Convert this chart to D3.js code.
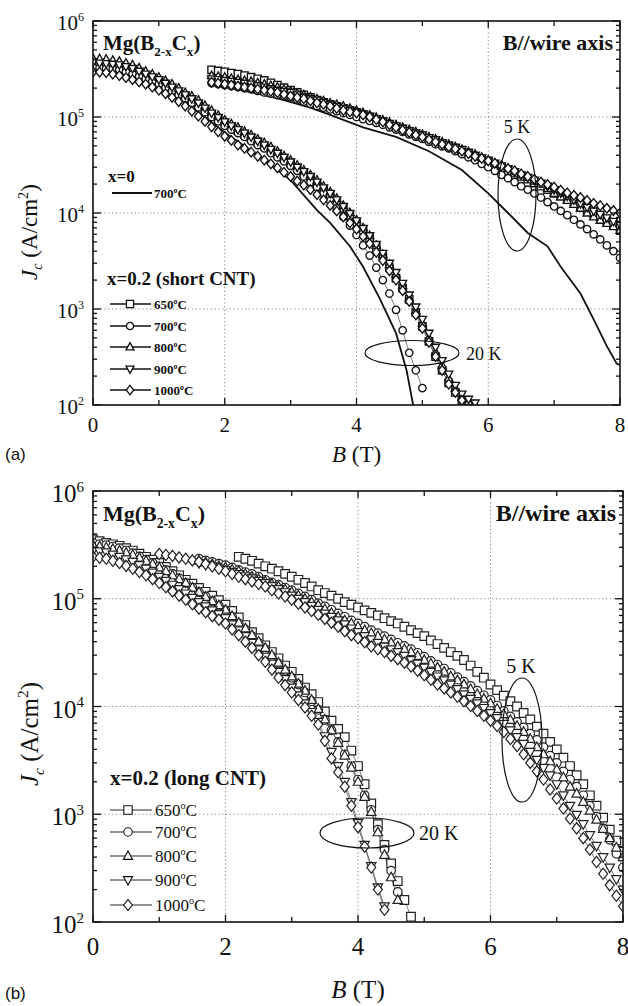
<!DOCTYPE html>
<html>
<head>
<meta charset="utf-8">
<script src="https://cdn.jsdelivr.net/npm/d3@7"></script>
<style>
  body { margin: 0; background: #fff; }
</style>
</head>
<body>
<svg id="chart" width="628" height="1006" viewBox="0 0 628 1006"></svg>
<script>
/* ── data ────────────────────────────────────────────────────────────────── */

// field sweep points (T), shared by every measured curve
const fieldGrid = [0, 0.1, 0.2, 0.3, 0.4, 0.5, 0.6, 0.7, 0.8, 0.9, 1.0, 1.1, 1.2, 1.3, 1.4, 1.5, 1.6,
  1.7, 1.8, 1.9, 2.0, 2.1, 2.2, 2.3, 2.4, 2.5, 2.6, 2.7, 2.8, 2.9, 3.0, 3.1, 3.2, 3.3, 3.4, 3.5, 3.6,
  3.7, 3.8, 3.9, 4.0, 4.1, 4.2, 4.3, 4.4, 4.5, 4.6, 4.7, 4.8, 4.9, 5.0, 5.1, 5.2, 5.3, 5.4, 5.5, 5.6,
  5.7, 5.8, 5.9, 6.0, 6.1, 6.2, 6.3, 6.4, 6.5, 6.6, 6.7, 6.8, 6.9, 7.0, 7.1, 7.2, 7.3, 7.4, 7.5, 7.6,
  7.7, 7.8, 7.9, 8.0];

const temps = ["650", "700", "800", "900", "1000"];
const symbols = ["square", "circle", "triangle", "nabla", "diamond"];

/* (a) short CNT — Jc (A/cm²) */

// 5 K, sweep from 1.8 T
const a5KStart = 1.8;
const a5K_650 = [3.1e5, 3.02e5, 2.95e5, 2.87e5, 2.8e5, 2.7e5, 2.6e5, 2.5e5, 2.4e5, 2.27e5,
  2.15e5, 2.02e5, 1.9e5, 1.8e5, 1.7e5, 1.6e5, 1.5e5, 1.42e5, 1.35e5, 1.29e5,
  1.23e5, 1.17e5, 1.12e5, 1.06e5, 1.0e5, 9.4e4, 8.9e4, 8.4e4, 7.9e4, 7.5e4,
  7.1e4, 6.7e4, 6.3e4, 5.9e4, 5.6e4, 5.3e4, 5.0e4, 4.7e4, 4.4e4, 4.1e4,
  3.9e4, 3.65e4, 3.4e4, 3.15e4, 2.95e4, 2.75e4, 2.6e4, 2.4e4, 2.25e4, 2.05e4,
  1.9e4, 1.75e4, 1.6e4, 1.5e4, 1.4e4, 1.28e4, 1.17e4, 1.07e4, 9.8e3, 9.0e3,
  8.3e3, 7.7e3, 7.1e3];
const a5K_700 = [2.25e5, 2.2e5, 2.15e5, 2.1e5, 2.05e5, 2.0e5, 1.95e5, 1.87e5, 1.8e5, 1.75e5,
  1.7e5, 1.65e5, 1.6e5, 1.52e5, 1.45e5, 1.37e5, 1.3e5, 1.25e5, 1.2e5, 1.15e5,
  1.1e5, 1.05e5, 1.0e5, 9.5e4, 9.1e4, 8.7e4, 8.3e4, 7.8e4, 7.4e4, 7.0e4,
  6.6e4, 6.2e4, 5.9e4, 5.5e4, 5.2e4, 4.95e4, 4.7e4, 4.4e4, 4.1e4, 3.8e4,
  3.55e4, 3.25e4, 3.0e4, 2.75e4, 2.5e4, 2.3e4, 2.1e4, 1.9e4, 1.75e4, 1.6e4,
  1.45e4, 1.3e4, 1.17e4, 1.05e4, 9.5e3, 8.5e3, 7.6e3, 6.8e3, 6.0e3, 5.3e3,
  4.6e3, 4.0e3, 3.4e3];
const a5K_800 = [2.7e5, 2.65e5, 2.6e5, 2.52e5, 2.45e5, 2.4e5, 2.35e5, 2.27e5, 2.2e5, 2.12e5,
  2.05e5, 1.95e5, 1.85e5, 1.77e5, 1.7e5, 1.62e5, 1.55e5, 1.47e5, 1.4e5, 1.35e5,
  1.3e5, 1.23e5, 1.17e5, 1.11e5, 1.05e5, 9.9e4, 9.3e4, 8.8e4, 8.3e4, 7.8e4,
  7.4e4, 7.0e4, 6.6e4, 6.2e4, 5.9e4, 5.5e4, 5.2e4, 4.9e4, 4.6e4, 4.35e4,
  4.1e4, 3.8e4, 3.55e4, 3.3e4, 3.1e4, 2.9e4, 2.7e4, 2.5e4, 2.35e4, 2.15e4,
  2.0e4, 1.8e4, 1.6e4, 1.47e4, 1.35e4, 1.23e4, 1.12e4, 1.0e4, 9.1e3, 8.4e3,
  7.8e3, 7.2e3, 6.6e3];
const a5K_900 = [2.5e5, 2.45e5, 2.4e5, 2.35e5, 2.3e5, 2.25e5, 2.2e5, 2.12e5, 2.05e5, 1.97e5,
  1.9e5, 1.85e5, 1.8e5, 1.7e5, 1.6e5, 1.55e5, 1.5e5, 1.42e5, 1.35e5, 1.29e5,
  1.23e5, 1.17e5, 1.12e5, 1.07e5, 1.02e5, 9.6e4, 9.1e4, 8.6e4, 8.1e4, 7.6e4,
  7.2e4, 6.8e4, 6.5e4, 6.1e4, 5.8e4, 5.4e4, 5.1e4, 4.85e4, 4.6e4, 4.3e4,
  4.0e4, 3.75e4, 3.55e4, 3.3e4, 3.1e4, 2.9e4, 2.7e4, 2.5e4, 2.35e4, 2.2e4,
  2.05e4, 1.9e4, 1.75e4, 1.62e4, 1.5e4, 1.37e4, 1.25e4, 1.15e4, 1.05e4, 9.7e3,
  8.9e3, 8.2e3, 7.6e3];
const a5K_1000 = [2.3e5, 2.25e5, 2.2e5, 2.15e5, 2.1e5, 2.05e5, 2.0e5, 1.95e5, 1.9e5, 1.85e5,
  1.8e5, 1.72e5, 1.65e5, 1.6e5, 1.55e5, 1.47e5, 1.4e5, 1.35e5, 1.3e5, 1.23e5,
  1.17e5, 1.13e5, 1.1e5, 1.05e5, 1.0e5, 9.4e4, 8.9e4, 8.3e4, 7.8e4, 7.3e4,
  6.9e4, 6.5e4, 6.2e4, 5.8e4, 5.5e4, 5.2e4, 4.9e4, 4.65e4, 4.4e4, 4.15e4,
  3.9e4, 3.7e4, 3.5e4, 3.3e4, 3.1e4, 2.9e4, 2.75e4, 2.55e4, 2.4e4, 2.25e4,
  2.1e4, 1.98e4, 1.86e4, 1.73e4, 1.62e4, 1.53e4, 1.45e4, 1.35e4, 1.26e4, 1.19e4,
  1.12e4, 1.06e4, 1.0e4];

// 20 K, sweep from 0 T
const a20KStart = 0;
const a20K_650 = [3.5e5, 3.48e5, 3.45e5, 3.38e5, 3.3e5, 3.15e5, 3.0e5, 2.85e5, 2.7e5, 2.52e5,
  2.35e5, 2.17e5, 2.0e5, 1.82e5, 1.66e5, 1.5e5, 1.35e5, 1.2e5, 1.07e5, 9.6e4,
  8.7e4, 7.9e4, 7.2e4, 6.6e4, 6.0e4, 5.5e4, 5.0e4, 4.5e4, 4.1e4, 3.7e4,
  3.3e4, 2.95e4, 2.6e4, 2.3e4, 2.0e4, 1.77e4, 1.55e4, 1.32e4, 1.12e4, 9.4e3,
  7.9e3, 6.6e3, 5.4e3, 4.4e3, 3.5e3, 2.7e3, 2.1e3, 1.65e3, 1.26e3, 920,
  660, 460, 320, 230, 170, 135, 112];
const a20K_700 = [3.3e5, 3.25e5, 3.2e5, 3.15e5, 3.1e5, 2.95e5, 2.8e5, 2.65e5, 2.5e5, 2.35e5,
  2.2e5, 2.02e5, 1.86e5, 1.7e5, 1.55e5, 1.4e5, 1.26e5, 1.12e5, 1.0e5, 9.0e4,
  8.1e4, 7.4e4, 6.8e4, 6.2e4, 5.6e4, 5.1e4, 4.7e4, 4.2e4, 3.8e4, 3.45e4,
  3.1e4, 2.75e4, 2.4e4, 2.1e4, 1.86e4, 1.6e4, 1.35e4, 1.12e4, 9.1e3, 7.4e3,
  5.9e3, 4.6e3, 3.6e3, 2.7e3, 2.0e3, 1.45e3, 980, 600, 350, 230, 150];
const a20K_800 = [4.1e5, 4.05e5, 4.0e5, 3.9e5, 3.8e5, 3.65e5, 3.5e5, 3.25e5, 3.0e5, 2.8e5,
  2.6e5, 2.4e5, 2.2e5, 2.0e5, 1.8e5, 1.65e5, 1.5e5, 1.32e5, 1.17e5, 1.04e5,
  9.3e4, 8.5e4, 7.8e4, 7.1e4, 6.5e4, 5.9e4, 5.4e4, 4.9e4, 4.4e4, 3.95e4,
  3.55e4, 3.15e4, 2.8e4, 2.5e4, 2.2e4, 1.9e4, 1.66e4, 1.42e4, 1.2e4, 1.01e4,
  8.5e3, 7.0e3, 5.8e3, 4.6e3, 3.7e3, 2.9e3, 2.3e3, 1.75e3, 1.3e3, 960,
  710, 500, 355, 260, 190, 150, 120, 108, 100];
const a20K_900 = [3.7e5, 3.65e5, 3.6e5, 3.55e5, 3.5e5, 3.35e5, 3.2e5, 3.0e5, 2.8e5, 2.62e5,
  2.45e5, 2.25e5, 2.05e5, 1.87e5, 1.7e5, 1.55e5, 1.4e5, 1.24e5, 1.1e5, 9.9e4,
  8.9e4, 8.1e4, 7.4e4, 6.8e4, 6.2e4, 5.6e4, 5.1e4, 4.6e4, 4.2e4, 3.8e4,
  3.4e4, 3.0e4, 2.7e4, 2.4e4, 2.1e4, 1.83e4, 1.6e4, 1.37e4, 1.17e4, 9.9e3,
  8.3e3, 6.9e3, 5.8e3, 4.7e3, 3.8e3, 3.0e3, 2.4e3, 1.85e3, 1.4e3, 1.05e3,
  780, 560, 400, 290, 210, 160, 130, 115, 105];
const a20K_1000 = [2.95e5, 2.93e5, 2.9e5, 2.8e5, 2.7e5, 2.57e5, 2.45e5, 2.32e5, 2.2e5, 2.05e5,
  1.9e5, 1.75e5, 1.6e5, 1.45e5, 1.3e5, 1.15e5, 1.02e5, 9.0e4, 7.9e4, 7.0e4,
  6.3e4, 5.7e4, 5.1e4, 4.7e4, 4.3e4, 3.9e4, 3.55e4, 3.25e4, 2.95e4, 2.65e4,
  2.4e4, 2.15e4, 1.95e4, 1.75e4, 1.55e4, 1.37e4, 1.2e4, 1.05e4, 9.1e3, 7.9e3,
  6.8e3, 5.7e3, 4.8e3, 3.9e3, 3.2e3, 2.5e3, 2.0e3, 1.55e3, 1.2e3, 870,
  630, 450, 320, 230, 165, 135, 112];

// x = 0 reference wire sintered at 700 °C (solid lines)
const aRef5K_B = [2.1, 2.5, 2.9, 3.3, 3.6, 4.1, 4.6, 5.1, 5.6, 6.0, 6.3, 6.6, 6.9, 7.1, 7.4, 7.6, 7.8, 7.95, 8.0];
const aRef5K_J = [2.0e5, 1.75e5, 1.5e5, 1.25e5, 1.05e5, 7.8e4, 6.2e4, 4.4e4, 2.8e4, 1.6e4, 1.0e4, 6.2e3,
  4.5e3, 2.75e3, 1.45e3, 780, 410, 270, 260];
const aRef20K_B = [0, 0.5, 1.0, 1.5, 2.0, 2.5, 3.0, 3.4, 3.6, 3.9, 4.1, 4.35, 4.6, 4.76, 4.86];
const aRef20K_J = [3.5e5, 3.2e5, 2.3e5, 1.26e5, 6.9e4, 4.0e4, 2.2e4, 1.07e4, 7.9e3, 4.5e3, 2.75e3, 1.3e3,
  560, 230, 100];

/* (b) long CNT — Jc (A/cm²) */

// 5 K sweeps (start fields differ per sample)
const b5KStart = [2.2, 1.6, 1.6, 1.6, 1.0];
const b5K_650 = [2.45e5, 2.35e5, 2.25e5, 2.12e5, 2.0e5, 1.9e5, 1.8e5, 1.7e5, 1.6e5, 1.5e5,
  1.4e5, 1.3e5, 1.2e5, 1.13e5, 1.07e5, 1.0e5, 9.3e4, 8.8e4, 8.3e4, 7.8e4,
  7.4e4, 7.0e4, 6.6e4, 6.2e4, 5.9e4, 5.5e4, 5.1e4, 4.8e4, 4.5e4, 4.1e4,
  3.8e4, 3.5e4, 3.2e4, 2.95e4, 2.7e4, 2.4e4, 2.1e4, 1.85e4, 1.6e4, 1.42e4,
  1.26e4, 1.12e4, 1.0e4, 8.7e3, 7.6e3, 6.5e3, 5.6e3, 4.7e3, 4.0e3, 3.35e3,
  2.8e3, 2.3e3, 1.9e3, 1.5e3, 1.2e3, 930, 720, 570, 450];
const b5K_700 = [2.35e5, 2.27e5, 2.2e5, 2.12e5, 2.05e5, 1.95e5, 1.85e5, 1.77e5, 1.7e5, 1.6e5,
  1.5e5, 1.42e5, 1.35e5, 1.27e5, 1.2e5, 1.12e5, 1.05e5, 9.8e4, 9.1e4, 8.5e4,
  7.9e4, 7.3e4, 6.8e4, 6.3e4, 5.9e4, 5.5e4, 5.1e4, 4.8e4, 4.5e4, 4.2e4,
  3.9e4, 3.65e4, 3.4e4, 3.15e4, 2.9e4, 2.65e4, 2.45e4, 2.25e4, 2.05e4, 1.87e4,
  1.7e4, 1.55e4, 1.4e4, 1.27e4, 1.15e4, 1.02e4, 9.1e3, 8.1e3, 7.2e3, 6.4e3,
  5.6e3, 4.9e3, 4.2e3, 3.5e3, 3.0e3, 2.5e3, 2.1e3, 1.8e3, 1.5e3, 1.2e3,
  950, 740, 580, 430, 320];
const b5K_800 = [2.25e5, 2.17e5, 2.1e5, 2.02e5, 1.95e5, 1.87e5, 1.8e5, 1.7e5, 1.6e5, 1.52e5,
  1.45e5, 1.37e5, 1.3e5, 1.22e5, 1.15e5, 1.07e5, 1.0e5, 9.3e4, 8.7e4, 8.0e4,
  7.4e4, 6.8e4, 6.3e4, 5.9e4, 5.5e4, 5.1e4, 4.8e4, 4.5e4, 4.2e4, 3.9e4,
  3.6e4, 3.4e4, 3.2e4, 2.95e4, 2.7e4, 2.5e4, 2.3e4, 2.1e4, 1.9e4, 1.75e4,
  1.6e4, 1.45e4, 1.3e4, 1.18e4, 1.07e4, 9.5e3, 8.5e3, 7.5e3, 6.6e3, 5.8e3,
  5.0e3, 4.2e3, 3.6e3, 3.1e3, 2.6e3, 2.2e3, 1.8e3, 1.55e3, 1.3e3, 1.08e3,
  890, 730, 600, 490, 400];
const b5K_900 = [2.15e5, 2.07e5, 2.0e5, 1.92e5, 1.85e5, 1.77e5, 1.7e5, 1.62e5, 1.55e5, 1.47e5,
  1.4e5, 1.31e5, 1.23e5, 1.15e5, 1.07e5, 1.0e5, 9.3e4, 8.6e4, 7.9e4, 7.3e4,
  6.8e4, 6.3e4, 5.8e4, 5.3e4, 4.9e4, 4.5e4, 4.2e4, 3.9e4, 3.6e4, 3.4e4,
  3.2e4, 2.95e4, 2.7e4, 2.5e4, 2.3e4, 2.1e4, 1.9e4, 1.75e4, 1.6e4, 1.45e4,
  1.3e4, 1.18e4, 1.07e4, 9.7e3, 8.7e3, 7.8e3, 6.9e3, 6.0e3, 5.2e3, 4.5e3,
  3.8e3, 3.2e3, 2.7e3, 2.3e3, 1.9e3, 1.5e3, 1.2e3, 990, 810, 640,
  510, 400, 320, 250, 200];
const b5K_1000 = [2.6e5, 2.55e5, 2.5e5, 2.42e5, 2.35e5, 2.27e5, 2.2e5, 2.1e5, 2.0e5, 1.9e5,
  1.8e5, 1.7e5, 1.6e5, 1.52e5, 1.45e5, 1.37e5, 1.3e5, 1.2e5, 1.12e5, 1.05e5,
  9.8e4, 9.0e4, 8.3e4, 7.7e4, 7.1e4, 6.5e4, 6.0e4, 5.5e4, 5.0e4, 4.6e4,
  4.3e4, 3.95e4, 3.6e4, 3.4e4, 3.2e4, 2.95e4, 2.75e4, 2.55e4, 2.35e4, 2.15e4,
  1.95e4, 1.77e4, 1.6e4, 1.47e4, 1.35e4, 1.23e4, 1.12e4, 1.01e4, 9.1e3, 8.2e3,
  7.4e3, 6.6e3, 5.8e3, 5.0e3, 4.3e3, 3.6e3, 3.0e3, 2.5e3, 2.1e3, 1.7e3,
  1.4e3, 1.13e3, 910, 740, 600, 470, 360, 280, 220, 175, 140];

// 20 K, sweep from 0 T
const b20KStart = 0;
const b20K_650 = [3.55e5, 3.42e5, 3.3e5, 3.2e5, 3.1e5, 2.95e5, 2.8e5, 2.62e5, 2.45e5, 2.3e5,
  2.15e5, 1.97e5, 1.8e5, 1.65e5, 1.5e5, 1.38e5, 1.26e5, 1.16e5, 1.07e5, 9.7e4,
  8.8e4, 7.7e4, 6.7e4, 5.7e4, 4.9e4, 4.3e4, 3.7e4, 3.2e4, 2.8e4, 2.4e4,
  2.1e4, 1.8e4, 1.5e4, 1.3e4, 1.1e4, 9.0e3, 7.4e3, 6.2e3, 5.2e3, 3.9e3,
  2.8e3, 1.9e3, 1.26e3, 810, 520, 350, 240, 160, 112];
const b20K_700 = [3.3e5, 3.22e5, 3.15e5, 3.05e5, 2.95e5, 2.8e5, 2.65e5, 2.47e5, 2.3e5, 2.15e5,
  2.0e5, 1.85e5, 1.7e5, 1.55e5, 1.4e5, 1.27e5, 1.15e5, 1.05e5, 9.5e4, 8.6e4,
  7.8e4, 6.8e4, 5.9e4, 5.2e4, 4.5e4, 3.9e4, 3.4e4, 2.9e4, 2.5e4, 2.15e4,
  1.85e4, 1.6e4, 1.35e4, 1.12e4, 9.3e3, 7.5e3, 6.0e3, 4.7e3, 3.6e3, 2.8e3,
  2.1e3, 1.5e3, 1.1e3, 720, 470, 300, 190];
const b20K_800 = [3.15e5, 3.07e5, 3.0e5, 2.9e5, 2.8e5, 2.67e5, 2.55e5, 2.4e5, 2.25e5, 2.1e5,
  1.95e5, 1.8e5, 1.65e5, 1.52e5, 1.4e5, 1.27e5, 1.15e5, 1.04e5, 9.5e4, 8.7e4,
  7.9e4, 6.9e4, 6.0e4, 5.3e4, 4.6e4, 4.0e4, 3.5e4, 3.0e4, 2.55e4, 2.2e4,
  1.9e4, 1.63e4, 1.4e4, 1.15e4, 9.5e3, 7.6e3, 6.0e3, 4.6e3, 3.5e3, 2.7e3,
  2.0e3, 1.45e3, 1.05e3, 680, 420, 260, 160];
const b20K_900 = [2.8e5, 2.75e5, 2.7e5, 2.57e5, 2.45e5, 2.32e5, 2.2e5, 2.05e5, 1.9e5, 1.75e5,
  1.6e5, 1.47e5, 1.35e5, 1.23e5, 1.12e5, 1.02e5, 9.3e4, 8.5e4, 7.8e4, 7.2e4,
  6.6e4, 5.8e4, 5.1e4, 4.5e4, 3.9e4, 3.4e4, 2.9e4, 2.5e4, 2.1e4, 1.8e4,
  1.5e4, 1.27e4, 1.07e4, 8.9e3, 7.2e3, 5.3e3, 3.8e3, 2.8e3, 2.0e3, 1.3e3,
  830, 520, 330, 210, 140];
const b20K_1000 = [2.45e5, 2.4e5, 2.35e5, 2.25e5, 2.15e5, 2.02e5, 1.9e5, 1.77e5, 1.65e5, 1.52e5,
  1.4e5, 1.28e5, 1.17e5, 1.07e5, 9.8e4, 8.9e4, 8.1e4, 7.5e4, 6.9e4, 6.4e4,
  5.9e4, 5.2e4, 4.6e4, 4.0e4, 3.5e4, 3.0e4, 2.6e4, 2.2e4, 1.85e4, 1.58e4,
  1.35e4, 1.15e4, 9.8e3, 8.2e3, 6.8e3, 4.8e3, 3.3e3, 2.45e3, 1.8e3, 1.2e3,
  760, 500, 320, 200, 130];

const gridLinesB = [2, 4, 6];
const gridLinesJ = [1e3, 1e4, 1e5];
const decades = [2, 3, 4, 5, 6];
const xTickLabels = [0, 2, 4, 6, 8];

/* ── helpers ─────────────────────────────────────────────────────────────── */

const SERIF = '"Liberation Serif", "Times New Roman", "DejaVu Serif", serif';
const SANS = '"Liberation Sans", "DejaVu Sans", sans-serif';

// pair a sweep's values with the field grid, starting at field `start`
function sweep(start, vals) {
  const i0 = fieldGrid.findIndex((b) => Math.abs(b - start) < 1e-6);
  return vals.map((v, i) => ({ B: fieldGrid[i0 + i], J: v }));
}

function symbolPath(type, r) {
  switch (type) {
    case "square":
      return `M${-r},${-r}h${2 * r}v${2 * r}h${-2 * r}Z`;
    case "circle":
      return `M${r},0A${r},${r} 0 1,1 ${-r},0A${r},${r} 0 1,1 ${r},0Z`;
    case "triangle":
      return `M0,${-r * 1.2}L${r * 1.1},${r * 0.8}L${-r * 1.1},${r * 0.8}Z`;
    case "nabla":
      return `M0,${r * 1.2}L${r * 1.1},${-r * 0.8}L${-r * 1.1},${-r * 0.8}Z`;
    default:
      return `M0,${-r * 1.3}L${r * 1.05},0L0,${r * 1.3}L${-r * 1.05},0Z`;
  }
}

const svg = d3.select("#chart");

function text(g, x, y, size) {
  return g.append("text").attr("x", x).attr("y", y)
    .attr("font-size", size).style("font-family", SERIF).attr("fill", "#111");
}

function degreeLabel(t, value, size) {
  t.append("tspan").text(value);
  t.append("tspan").attr("font-size", size * 0.6).attr("dy", -size * 0.42).text("o");
  t.append("tspan").attr("dy", size * 0.42).text("C");
}

/* ── panel ───────────────────────────────────────────────────────────────── */

function drawPanel(p) {
  const x = d3.scaleLinear().domain([0, 8]).range([p.left, p.right]);
  const y = d3.scaleLog().domain([1e2, 1e6]).range([p.bottom, p.top]);
  const g = svg.append("g");

  svg.append("clipPath").attr("id", "clip-" + p.id)
    .append("rect")
    .attr("x", p.left).attr("y", p.top)
    .attr("width", p.right - p.left).attr("height", p.bottom - p.top);

  // dotted grid
  const grid = g.append("g")
    .attr("stroke", "#777").attr("stroke-width", 0.9).attr("stroke-dasharray", "1.2,2.6");
  gridLinesB.forEach((b) =>
    grid.append("line").attr("x1", x(b)).attr("x2", x(b)).attr("y1", p.top).attr("y2", p.bottom));
  gridLinesJ.forEach((j) =>
    grid.append("line").attr("x1", p.left).attr("x2", p.right).attr("y1", y(j)).attr("y2", y(j)));

  const plot = g.append("g").attr("clip-path", `url(#clip-${p.id})`);
  const line = d3.line().x((d) => x(d.B)).y((d) => y(d.J));

  // reference solid lines (x = 0)
  (p.refLines || []).forEach((pts) =>
    plot.append("path").attr("d", line(pts))
      .attr("fill", "none").attr("stroke", "#111").attr("stroke-width", 1.8));

  // CNT-doped series: thin connecting line + open markers
  p.series.forEach((s) => {
    plot.append("path").attr("d", line(s.pts))
      .attr("fill", "none").attr("stroke", "#444").attr("stroke-width", 0.7);
  });
  p.series.forEach((s) => {
    plot.selectAll(null).data(s.pts).enter().append("path")
      .attr("transform", (d) => `translate(${x(d.B)},${y(d.J)})`)
      .attr("d", symbolPath(s.sym, p.markR))
      .attr("fill", "#fff").attr("stroke", p.markStroke).attr("stroke-width", p.markWidth);
  });

  // frame
  g.append("rect")
    .attr("x", p.left).attr("y", p.top)
    .attr("width", p.right - p.left).attr("height", p.bottom - p.top)
    .attr("fill", "none").attr("stroke", "#111").attr("stroke-width", 1.6);

  // ticks, all pointing inward
  const ticks = g.append("g").attr("stroke", "#111").attr("stroke-width", 1.3);
  d3.range(0, 9).forEach((b) => {
    const len = b % 2 === 0 ? 7 : 5;
    ticks.append("line").attr("x1", x(b)).attr("x2", x(b)).attr("y1", p.bottom).attr("y2", p.bottom - len);
    ticks.append("line").attr("x1", x(b)).attr("x2", x(b)).attr("y1", p.top).attr("y2", p.top + len);
  });
  decades.forEach((e) => {
    const base = Math.pow(10, e);
    ticks.append("line").attr("x1", p.left).attr("x2", p.left + 8).attr("y1", y(base)).attr("y2", y(base));
    ticks.append("line").attr("x1", p.right).attr("x2", p.right - 8).attr("y1", y(base)).attr("y2", y(base));
    if (e === 6) return;
    d3.range(2, 10).forEach((m) => {
      const v = m * base;
      ticks.append("line").attr("x1", p.left).attr("x2", p.left + 4).attr("y1", y(v)).attr("y2", y(v));
      ticks.append("line").attr("x1", p.right).attr("x2", p.right - 4).attr("y1", y(v)).attr("y2", y(v));
    });
  });

  // tick labels
  xTickLabels.forEach((b) =>
    text(g, x(b), p.bottom + p.xTickDy, p.tickSize).attr("text-anchor", "middle").text(b));
  decades.forEach((e) => {
    const t = text(g, p.left - 9, y(Math.pow(10, e)) + p.yTickDy, p.tickSize).attr("text-anchor", "end");
    t.append("tspan").text("10");
    t.append("tspan").attr("font-size", p.supSize).attr("dy", -p.tickSize * 0.42).text(String(e));
  });

  // axis titles
  const ls = p.labelSize;
  const yt = text(g, 0, 0, ls)
    .attr("transform", `translate(${p.yLabelX},${p.yLabelY}) rotate(-90)`)
    .attr("text-anchor", "middle");
  yt.append("tspan").attr("font-style", "italic").text("J");
  yt.append("tspan").attr("font-style", "italic").attr("font-size", ls * 0.62).attr("dy", ls * 0.22).text("c");
  yt.append("tspan").attr("dy", -ls * 0.22).text(" (A/cm");
  yt.append("tspan").attr("font-size", ls * 0.62).attr("dy", -ls * 0.4).text("2");
  yt.append("tspan").attr("dy", ls * 0.4).text(")");

  const xt = text(g, x(4), p.xLabelY, ls).attr("text-anchor", "middle");
  xt.append("tspan").attr("font-style", "italic").text("B");
  xt.append("tspan").text(" (T)");

  text(g, 5, p.tagY, 17).style("font-family", SANS).text(p.tag);

  // compound name
  const ts = p.titleSize;
  const title = text(g, p.left + 10, p.titleY, ts).attr("font-weight", "bold");
  title.append("tspan").text("Mg(B");
  title.append("tspan").attr("font-size", ts * 0.62).attr("dy", ts * 0.3).text("2-x");
  title.append("tspan").attr("dy", -ts * 0.3).text("C");
  title.append("tspan").attr("font-size", ts * 0.62).attr("dy", ts * 0.3).text("x");
  title.append("tspan").attr("dy", -ts * 0.3).text(")");

  text(g, p.right - 7, p.titleY, p.axisNoteSize)
    .attr("text-anchor", "end").attr("font-weight", "bold").text("B//wire axis");

  // temperature ellipses
  p.ellipses.forEach((e) => {
    g.append("ellipse").attr("cx", e.cx).attr("cy", e.cy).attr("rx", e.rx).attr("ry", e.ry)
      .attr("fill", "none").attr("stroke", "#111").attr("stroke-width", 1.2);
    text(g, e.tx, e.ty, e.size).attr("text-anchor", e.anchor).text(e.label);
  });

  return g;
}

function legendRows(g, cfg) {
  temps.forEach((t, i) => {
    const yy = cfg.rows[i];
    g.append("line").attr("x1", cfg.x0).attr("x2", cfg.x1).attr("y1", yy).attr("y2", yy)
      .attr("stroke", "#111").attr("stroke-width", cfg.lineWidth);
    g.append("path").attr("transform", `translate(${cfg.mx},${yy})`)
      .attr("d", symbolPath(symbols[i], cfg.r))
      .attr("fill", "#fff").attr("stroke", "#111").attr("stroke-width", cfg.markWidth);
    const tx = text(g, cfg.tx, yy + cfg.dy, cfg.size).attr("font-weight", cfg.weight);
    degreeLabel(tx, t, cfg.size);
  });
}

/* ── (a) ─────────────────────────────────────────────────────────────────── */

const aSeries = [
  [a5K_650, a20K_650], [a5K_700, a20K_700], [a5K_800, a20K_800],
  [a5K_900, a20K_900], [a5K_1000, a20K_1000],
].flatMap(([v5, v20], i) => [
  { sym: symbols[i], pts: sweep(a5KStart, v5) },
  { sym: symbols[i], pts: sweep(a20KStart, v20) },
]);

const gA = drawPanel({
  id: "a", left: 93, right: 620, top: 21, bottom: 405,
  series: aSeries,
  refLines: [
    aRef5K_B.map((b, i) => ({ B: b, J: aRef5K_J[i] })),
    aRef20K_B.map((b, i) => ({ B: b, J: aRef20K_J[i] })),
  ],
  markR: 3.7, markStroke: "#111", markWidth: 1.35,
  tickSize: 21, supSize: 12, xTickDy: 27, yTickDy: 9,
  labelSize: 23, yLabelX: 37, yLabelY: 232, xLabelY: 462,
  tag: "(a)", tagY: 460,
  titleY: 50, titleSize: 21, axisNoteSize: 22,
  ellipses: [
    { cx: 517, cy: 195, rx: 19, ry: 56, label: "5 K", tx: 517, ty: 133, anchor: "middle", size: 18 },
    { cx: 412, cy: 353, rx: 47, ry: 12.5, label: "20 K", tx: 466, ty: 360, anchor: "start", size: 18 },
  ],
});

text(gA, 108, 182, 17).attr("font-weight", "bold").text("x=0");
gA.append("line").attr("x1", 112).attr("x2", 152).attr("y1", 193).attr("y2", 193)
  .attr("stroke", "#111").attr("stroke-width", 1.8);
degreeLabel(text(gA, 154, 198, 13).attr("font-weight", "bold"), "700", 13);
text(gA, 107, 285, 19).attr("font-weight", "bold").text("x=0.2 (short CNT)");
legendRows(gA, {
  rows: [304, 326, 347, 369, 390], x0: 110, x1: 151, mx: 130, tx: 154, dy: 5,
  r: 3.6, markWidth: 1.3, lineWidth: 1.3, size: 13, weight: "bold",
});

/* ── (b) ─────────────────────────────────────────────────────────────────── */

const bSeries = [
  [b5K_650, b20K_650], [b5K_700, b20K_700], [b5K_800, b20K_800],
  [b5K_900, b20K_900], [b5K_1000, b20K_1000],
].flatMap(([v5, v20], i) => [
  { sym: symbols[i], pts: sweep(b5KStart[i], v5) },
  { sym: symbols[i], pts: sweep(b20KStart, v20) },
]);

const gB = drawPanel({
  id: "b", left: 93, right: 623, top: 491, bottom: 922,
  series: bSeries,
  markR: 4.3, markStroke: "#222", markWidth: 1.2,
  tickSize: 25, supSize: 15, xTickDy: 33, yTickDy: 11,
  labelSize: 25, yLabelX: 38, yLabelY: 734, xLabelY: 998,
  tag: "(b)", tagY: 999,
  titleY: 521, titleSize: 22, axisNoteSize: 24,
  ellipses: [
    { cx: 522, cy: 740, rx: 20, ry: 62, label: "5 K", tx: 521, ty: 673, anchor: "middle", size: 20 },
    { cx: 367, cy: 833, rx: 47, ry: 15, label: "20 K", tx: 419, ty: 840, anchor: "start", size: 20 },
  ],
});

text(gB, 110, 785, 21).attr("font-weight", "bold").text("x=0.2 (long CNT)");
legendRows(gB, {
  rows: [810, 832, 856, 880, 905], x0: 110, x1: 152, mx: 128, tx: 155, dy: 6,
  r: 4.2, markWidth: 1.1, lineWidth: 0.9, size: 17, weight: "normal",
});
</script>
</body>
</html>
